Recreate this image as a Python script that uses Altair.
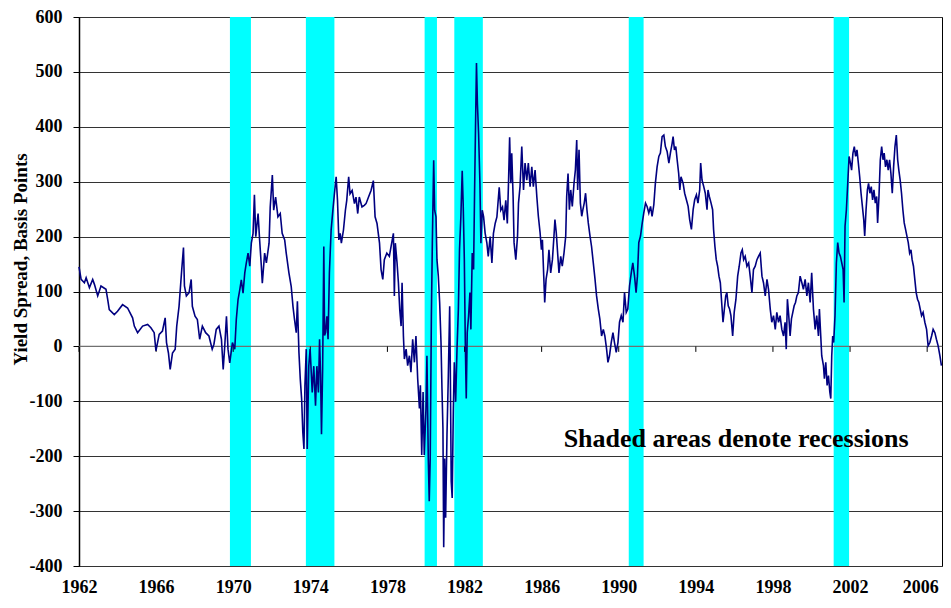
import altair as alt
import pandas as pd

# ---- data ----
t = [1962.00, 1962.11, 1962.28, 1962.37, 1962.54, 1962.71, 1962.80, 1962.97, 1963.14, 1963.40,
     1963.49, 1963.57, 1963.83, 1964.00, 1964.26, 1964.52, 1964.78, 1964.87, 1965.04, 1965.30,
     1965.56, 1965.73, 1965.90, 1965.99, 1966.16, 1966.33, 1966.47, 1966.54, 1966.64, 1966.73,
     1966.85, 1966.99, 1967.07, 1967.19, 1967.33, 1967.42, 1967.47, 1967.57, 1967.71, 1967.82,
     1967.88, 1968.02, 1968.14, 1968.26, 1968.40, 1968.57, 1968.74, 1968.91, 1969.00, 1969.12,
     1969.26, 1969.39, 1969.48, 1969.56, 1969.65, 1969.73, 1969.82, 1969.96, 1970.08, 1970.16,
     1970.25, 1970.34, 1970.42, 1970.51, 1970.60, 1970.68, 1970.77, 1970.86, 1970.94, 1971.03,
     1971.10, 1971.17, 1971.29, 1971.37, 1971.46, 1971.51, 1971.63, 1971.72, 1971.86, 1971.92,
     1972.03, 1972.10, 1972.20, 1972.32, 1972.44, 1972.54, 1972.67, 1972.75, 1972.89, 1973.01,
     1973.10, 1973.18, 1973.27, 1973.33, 1973.41, 1973.48, 1973.55, 1973.61, 1973.67, 1973.72,
     1973.79, 1973.84, 1973.92, 1973.99, 1974.10, 1974.18, 1974.27, 1974.34, 1974.42, 1974.48,
     1974.53, 1974.58, 1974.64, 1974.70, 1974.74, 1974.79, 1974.86, 1974.92, 1974.99, 1975.08,
     1975.17, 1975.25, 1975.34, 1975.41, 1975.48, 1975.55, 1975.61, 1975.72, 1975.82, 1975.89,
     1975.99, 1976.06, 1976.17, 1976.29, 1976.37, 1976.46, 1976.54, 1976.68, 1976.80, 1976.89,
     1977.02, 1977.15, 1977.27, 1977.36, 1977.46, 1977.59, 1977.67, 1977.76, 1977.84, 1977.97,
     1978.10, 1978.22, 1978.31, 1978.36, 1978.41, 1978.50, 1978.57, 1978.64, 1978.71, 1978.76,
     1978.83, 1978.88, 1978.97, 1979.05, 1979.14, 1979.22, 1979.31, 1979.40, 1979.48, 1979.57,
     1979.66, 1979.71, 1979.78, 1979.85, 1979.91, 1980.00, 1980.05, 1980.12, 1980.17, 1980.22,
     1980.28, 1980.33, 1980.40, 1980.45, 1980.52, 1980.57, 1980.64, 1980.71, 1980.78, 1980.83,
     1980.88, 1980.92, 1980.97, 1981.02, 1981.09, 1981.16, 1981.23, 1981.26, 1981.31, 1981.36,
     1981.42, 1981.47, 1981.54, 1981.61, 1981.68, 1981.74, 1981.81, 1981.88, 1981.93, 1981.99,
     1982.04, 1982.09, 1982.14, 1982.21, 1982.28, 1982.33, 1982.40, 1982.47, 1982.52, 1982.57,
     1982.62, 1982.67, 1982.73, 1982.80, 1982.85, 1982.92, 1982.99, 1983.07, 1983.16, 1983.23,
     1983.33, 1983.42, 1983.50, 1983.59, 1983.68, 1983.80, 1983.88, 1983.97, 1984.05, 1984.14,
     1984.22, 1984.28, 1984.34, 1984.40, 1984.45, 1984.52, 1984.57, 1984.66, 1984.75, 1984.80,
     1984.88, 1984.97, 1985.06, 1985.14, 1985.23, 1985.31, 1985.40, 1985.49, 1985.57, 1985.66,
     1985.75, 1985.83, 1985.92, 1985.99, 1986.04, 1986.11, 1986.16, 1986.23, 1986.31, 1986.38,
     1986.47, 1986.56, 1986.64, 1986.69, 1986.76, 1986.83, 1986.90, 1986.99, 1987.07, 1987.16,
     1987.25, 1987.30, 1987.37, 1987.44, 1987.51, 1987.59, 1987.68, 1987.75, 1987.82, 1987.87,
     1987.94, 1988.01, 1988.08, 1988.14, 1988.21, 1988.28, 1988.35, 1988.42, 1988.51, 1988.59,
     1988.68, 1988.77, 1988.85, 1988.94, 1989.02, 1989.11, 1989.20, 1989.28, 1989.37, 1989.44,
     1989.52, 1989.61, 1989.70, 1989.78, 1989.87, 1989.96, 1990.04, 1990.13, 1990.22, 1990.30,
     1990.39, 1990.47, 1990.56, 1990.65, 1990.73, 1990.82, 1990.90, 1990.97, 1991.04, 1991.13,
     1991.22, 1991.30, 1991.39, 1991.47, 1991.56, 1991.65, 1991.73, 1991.82, 1991.90, 1991.99,
     1992.08, 1992.16, 1992.25, 1992.34, 1992.42, 1992.51, 1992.60, 1992.68, 1992.77, 1992.82,
     1992.89, 1992.96, 1993.03, 1993.11, 1993.17, 1993.23, 1993.34, 1993.42, 1993.51, 1993.60,
     1993.68, 1993.77, 1993.86, 1993.94, 1994.03, 1994.11, 1994.20, 1994.25, 1994.32, 1994.41,
     1994.49, 1994.58, 1994.63, 1994.70, 1994.79, 1994.87, 1994.92, 1994.99, 1995.06, 1995.13,
     1995.20, 1995.27, 1995.34, 1995.41, 1995.48, 1995.55, 1995.61, 1995.68, 1995.75, 1995.82,
     1995.91, 1995.99, 1996.08, 1996.17, 1996.25, 1996.34, 1996.41, 1996.48, 1996.56, 1996.65,
     1996.74, 1996.82, 1996.91, 1996.99, 1997.08, 1997.17, 1997.25, 1997.34, 1997.43, 1997.51,
     1997.60, 1997.69, 1997.77, 1997.86, 1997.94, 1998.03, 1998.12, 1998.20, 1998.29, 1998.37,
     1998.46, 1998.55, 1998.63, 1998.69, 1998.75, 1998.82, 1998.89, 1998.96, 1999.03, 1999.10,
     1999.17, 1999.24, 1999.32, 1999.41, 1999.50, 1999.58, 1999.67, 1999.76, 1999.84, 1999.93,
     2000.01, 2000.10, 2000.19, 2000.27, 2000.36, 2000.41, 2000.48, 2000.53, 2000.62, 2000.67,
     2000.74, 2000.81, 2000.88, 2000.95, 2001.00, 2001.05, 2001.10, 2001.15, 2001.22, 2001.29,
     2001.36, 2001.43, 2001.50, 2001.57, 2001.64, 2001.69, 2001.74, 2001.81, 2001.88, 2001.95,
     2002.02, 2002.08, 2002.15, 2002.22, 2002.29, 2002.36, 2002.43, 2002.50, 2002.57, 2002.64,
     2002.71, 2002.76, 2002.83, 2002.90, 2002.96, 2003.03, 2003.10, 2003.17, 2003.24, 2003.31,
     2003.38, 2003.43, 2003.50, 2003.57, 2003.64, 2003.71, 2003.77, 2003.84, 2003.91, 2003.98,
     2004.05, 2004.12, 2004.19, 2004.26, 2004.33, 2004.40, 2004.47, 2004.53, 2004.60, 2004.67,
     2004.74, 2004.81, 2004.88, 2004.95, 2005.02, 2005.09, 2005.16, 2005.22, 2005.29, 2005.36,
     2005.43, 2005.50, 2005.57, 2005.64, 2005.71, 2005.79, 2005.88, 2005.97, 2006.05, 2006.14,
     2006.23, 2006.31, 2006.40, 2006.48, 2006.57, 2006.66, 2006.74]

spread = [145, 122, 116, 125, 107, 122, 113, 92, 110, 104,
          85, 67, 58, 64, 76, 70, 52, 37, 25, 37,
          40, 34, 25, -8, 22, 28, 52, 7, -12, -42,
          -12, -5, 37, 73, 140, 180, 110, 92, 98, 122,
          73, 55, 49, 13, 37, 25, 19, -5, 4, 31,
          37, 13, -42, 0, 55, -5, -30, 7, -5, 49,
          85, 103, 121, 97, 134, 152, 170, 146, 188, 206,
          276, 200, 242, 194, 146, 115, 170, 152, 188, 254,
          312, 248, 272, 236, 242, 206, 194, 170, 134, 109,
          73, 49, 25, 82, -11, -60, -96, -156, -187, -72,
          -5, -187, -36, -5, -84, -36, -108, -36, -84, 13,
          -50, -160, -40, 182, 20, 25, 55, 13, 134, 212,
          248, 278, 309, 266, 194, 206, 188, 212, 248, 266,
          309, 278, 284, 260, 272, 242, 272, 254, 257, 260,
          272, 284, 302, 236, 224, 188, 140, 122, 158, 170,
          164, 188, 206, 92, 188, 152, 116, 67, 37, 116,
          19, -23, -5, -35, -17, -47, 13, -29, 19, -59,
          -113, -71, -198, -83, -198, -113, -17, -204, -282, -204,
          55, 188, 339, 248, 236, 158, 128, 80, 7, -77,
          -149, -366, -204, -312, -161, -53, 73, -29, -246, -276,
          -113, -29, -101, -5, 67, 176, 236, 320, 260, 158,
          7, -95, 25, 55, 98, 31, 170, 140, 278, 399,
          516, 441, 387, 296, 188, 248, 236, 206, 188, 164,
          200, 152, 206, 224, 236, 290, 248, 254, 230, 266,
          224, 296, 381, 297, 352, 273, 189, 158, 201, 261,
          291, 364, 285, 334, 303, 334, 291, 327, 291, 321,
          273, 237, 207, 176, 194, 128, 80, 122, 140, 176,
          134, 158, 201, 231, 207, 170, 134, 164, 146, 170,
          201, 273, 315, 249, 285, 255, 297, 321, 376, 285,
          358, 261, 237, 249, 261, 279, 249, 225, 201, 182,
          152, 122, 92, 68, 50, 19, 31, 19, -5, -29,
          -17, 7, 25, 7, -11, 7, 44, 56, 44, 98,
          62, 68, 110, 134, 152, 128, 98, 128, 189, 201,
          225, 243, 261, 255, 243, 255, 237, 258, 297, 327,
          346, 352, 382, 385, 364, 355, 334, 352, 370, 382,
          358, 364, 340, 315, 285, 309, 297, 279, 267, 255,
          231, 213, 249, 267, 276, 261, 285, 334, 303, 291,
          279, 249, 285, 273, 261, 249, 213, 182, 158, 146,
          128, 116, 80, 44, 68, 92, 98, 74, 68, 56,
          19, 62, 86, 128, 146, 170, 176, 158, 164, 146,
          152, 128, 98, 140, 146, 158, 164, 170, 128, 116,
          92, 122, 104, 68, 44, 56, 31, 62, 44, 56,
          31, 19, 44, -5, 86, 56, 19, 50, 62, 74,
          80, 92, 98, 128, 116, 104, 122, 92, 116, 80,
          134, 68, 31, 56, 19, 68, 19, -17, -35, -59,
          -29, -71, -53, -83, -95, -17, 19, 7, 56, 152,
          189, 170, 164, 152, 140, 80, 219, 249, 297, 346,
          334, 321, 352, 364, 346, 358, 334, 309, 279, 255,
          231, 201, 249, 285, 297, 279, 291, 267, 285, 261,
          273, 225, 273, 340, 364, 340, 352, 327, 340, 321,
          340, 315, 279, 327, 364, 385, 340, 321, 303, 279,
          249, 225, 213, 201, 189, 170, 176, 158, 146, 122,
          98, 86, 80, 68, 56, 62, 44, 31, 1, 7,
          19, 31, 25, 13, 1, -17, -35]

rec_start = [1969.83, 1973.77, 1979.93, 1981.47, 1990.52, 2001.15]
rec_end = [1970.92, 1975.25, 1980.57, 1982.95, 1991.29, 2001.95]

year_ticks = [1962, 1966, 1970, 1974, 1978, 1982, 1986, 1990, 1994, 1998, 2002, 2006]
y_ticks = [-400, -300, -200, -100, 0, 100, 200, 300, 400, 500, 600]

note_text = ["Shaded areas denote recessions"]
note_x = [1996.09]
note_y = [-184]

# ---- build chart ----
FONT = "Liberation Serif"
x_scale = alt.Scale(domain=[1962, 2006.77], nice=False, zero=False)
y_scale = alt.Scale(domain=[-400, 600], nice=False, zero=False)

df = pd.DataFrame({"t": t, "v": spread})
rec = pd.DataFrame({"s": rec_start, "e": rec_end})
ticks = pd.DataFrame({"yr": year_ticks, "y0": [0] * len(year_ticks), "y1": [-10] * len(year_ticks)})
zero = pd.DataFrame({"z": [0]})
note = pd.DataFrame({"x": note_x, "y": note_y, "label": note_text})

x_axis = alt.Axis(values=year_ticks, labelExpr="'' + datum.value", ticks=False, domain=False,
                  grid=False, labelPadding=12, labelFont=FONT, labelFontWeight="bold",
                  labelFontSize=18, labelColor="black", labelFlush=False, labelOverlap=False,
                  labelOffset={"condition": {"test": "datum.value == 2006", "value": -7}, "value": 0},
                  title=None)
y_axis = alt.Axis(values=y_ticks, labelExpr="'' + datum.value", tickSize=6, tickColor="black",
                  domainColor="black", domainWidth=1.5, grid=True, gridColor="#333333",
                  gridWidth=1, labelPadding=11, labelFont=FONT, labelFontWeight="bold",
                  labelFontSize=18, labelColor="black",
                  title="Yield Spread, Basis Points", titleFont=FONT, titleFontWeight="bold",
                  titleFontSize=19, titleColor="black", titleX=-59, titleY=242,
                  titleAngle=270, titleAlign="center", titleBaseline="middle")

bands = alt.Chart(rec).mark_rect(color="#00FFFF").encode(
    x=alt.X("s:Q", scale=x_scale, axis=x_axis),
    x2="e:Q",
)

zero_line = alt.Chart(zero).mark_rule(color="#707070", strokeWidth=1.2).encode(
    y=alt.Y("z:Q", scale=y_scale, axis=y_axis)
)

tick_marks = alt.Chart(ticks).mark_rule(color="black", strokeWidth=1).encode(
    x=alt.X("yr:Q", scale=x_scale),
    y=alt.Y("y0:Q", scale=y_scale),
    y2="y1:Q",
)

line = alt.Chart(df).mark_line(color="#000080", strokeWidth=1.6).encode(
    x=alt.X("t:Q", scale=x_scale),
    y=alt.Y("v:Q", scale=y_scale),
)

text = alt.Chart(note).mark_text(font=FONT, fontWeight="bold", fontSize=26, color="black",
                                 align="center", baseline="alphabetic").encode(
    x=alt.X("x:Q", scale=x_scale),
    y=alt.Y("y:Q", scale=y_scale),
    text="label:N",
)

chart = alt.layer(bands, zero_line, tick_marks, line, text).properties(
    width=863,
    height=549,
    autosize=alt.AutoSizeParams(type="none"),
    padding={"left": 71, "top": 9, "right": 1, "bottom": 29},
    background="white",
).configure_view(stroke="black", strokeWidth=1)

chart.save("out.html", embed_options={"renderer": "svg", "actions": False})
